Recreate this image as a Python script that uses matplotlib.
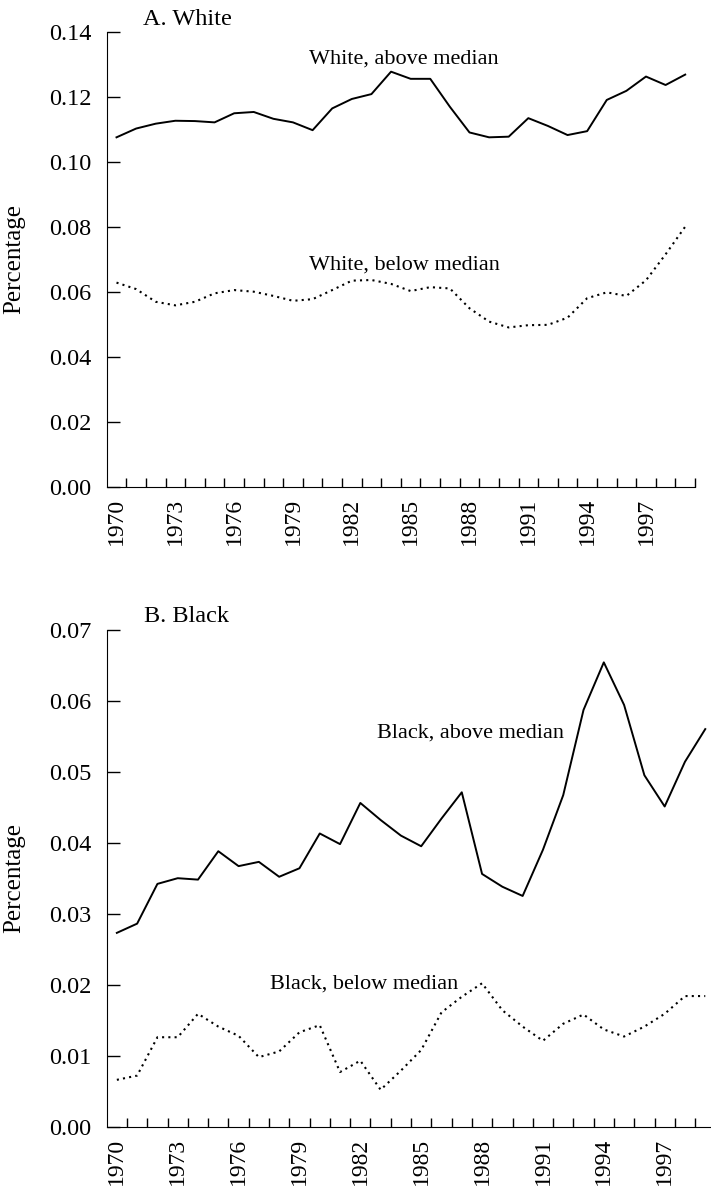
import numpy as np
import matplotlib
matplotlib.use("Agg")
import matplotlib.pyplot as plt

plt.rcParams["font.family"] = ["Liberation Serif", "DejaVu Serif"]

years = list(range(1970, 2000))
tick_years = list(range(1970, 2000, 3))

white_above = [0.1075, 0.1102, 0.1117, 0.1126, 0.1125, 0.1121, 0.1149, 0.1153, 0.1132, 0.1121,
               0.1097, 0.1164, 0.1193, 0.1208, 0.1277, 0.1255, 0.1255, 0.1169, 0.1090, 0.1075,
               0.1077, 0.1134, 0.1110, 0.1082, 0.1094, 0.1190, 0.1218, 0.1262, 0.1236, 0.1268]
white_below = [0.0628, 0.0608, 0.0569, 0.0558, 0.0569, 0.0595, 0.0605, 0.0600, 0.0587, 0.0572,
               0.0577, 0.0605, 0.0634, 0.0636, 0.0624, 0.0602, 0.0614, 0.0610, 0.0549, 0.0508,
               0.0490, 0.0497, 0.0498, 0.0520, 0.0580, 0.0598, 0.0587, 0.0635, 0.0715, 0.0800]
black_above = [0.0273, 0.0286, 0.0342, 0.0350, 0.0348, 0.0388, 0.0367, 0.0373, 0.0352, 0.0364,
               0.0413, 0.0398, 0.0456, 0.0432, 0.0410, 0.0395, 0.0434, 0.0471, 0.0356, 0.0338,
               0.0325, 0.0390, 0.0467, 0.0587, 0.0654, 0.0594, 0.0495, 0.0451, 0.0514, 0.0560]
black_below = [0.0066, 0.0072, 0.0126, 0.0126, 0.0159, 0.0141, 0.0128, 0.0098, 0.0106, 0.0133,
               0.0143, 0.0077, 0.0093, 0.0052, 0.0079, 0.0108, 0.0161, 0.0183, 0.0202, 0.0164,
               0.0141, 0.0121, 0.0145, 0.0158, 0.0137, 0.0127, 0.0141, 0.0159, 0.0184, 0.0184]

W, H = 711, 1191
fig = plt.figure(figsize=(W / 100, H / 100), dpi=100)

FS_TICK = 17.5
FS_TEXT = 16


def px_axes(left, right, top, bottom):
    return fig.add_axes([left / W, 1 - bottom / H, (right - left) / W, (bottom - top) / H])


def style(ax, ymax, ystep, title, right_tick):
    x = np.arange(len(years))
    ax.set_xlim(-0.5, 29.5)
    ax.set_ylim(0, ymax)
    ax.spines["top"].set_visible(False)
    ax.spines["right"].set_visible(False)
    yt = np.arange(0, ymax + ystep / 2, ystep)
    ax.set_yticks(yt, [f"{v:.2f}" for v in yt])
    ax.tick_params(axis="y", direction="in", length=9.3, width=1, pad=11, labelsize=FS_TICK)
    ax.set_xticks([years.index(y) for y in tick_years], [str(y) for y in tick_years],
                  rotation=90)
    ax.tick_params(axis="x", which="major", length=0, pad=8, labelsize=FS_TICK - 0.5)
    minor = np.arange(0.5, 29.6 if right_tick else 29.4, 1)
    ax.set_xticks(minor, minor=True)
    ax.tick_params(axis="x", which="minor", direction="in", length=6.5, width=1)
    ax.set_ylabel("Percentage", fontsize=FS_TICK + 0.5)
    ax.text(0.062, 1.015, title, transform=ax.transAxes, fontsize=FS_TICK,
            ha="left", va="baseline")
    return x


# Panel A
ax1 = px_axes(106.7, 695, 31.7, 486.7)
x = style(ax1, 0.14, 0.02, "A. White", True)
ax1.plot(x, white_above, color="black", lw=1.4)
ax1.plot(x, white_below, color="black", lw=1.5, linestyle=(0, (1, 2)))
ax1.text(14.67, 0.1303, "White, above median", fontsize=FS_TEXT, ha="center", va="baseline")
ax1.text(14.67, 0.0669, "White, below median", fontsize=FS_TEXT, ha="center", va="baseline")
ax1.yaxis.set_label_coords(-0.139, 0.5)

# Panel B
ax2 = px_axes(106.7, 106.7 + 30 * 20.29, 629.7, 1126.7)
x = style(ax2, 0.07, 0.01, "B. Black", False)
ax2.plot(x, black_above, color="black", lw=1.4)
ax2.plot(x, black_below, color="black", lw=1.5, linestyle=(0, (1, 2)))
ax2.text(17.44, 0.05485, "Black, above median", fontsize=FS_TEXT, ha="center", va="baseline")
ax2.text(12.17, 0.0195, "Black, below median", fontsize=FS_TEXT, ha="center", va="baseline")
ax2.yaxis.set_label_coords(-0.134, 0.5)

fig.savefig("out.png", dpi=100)
